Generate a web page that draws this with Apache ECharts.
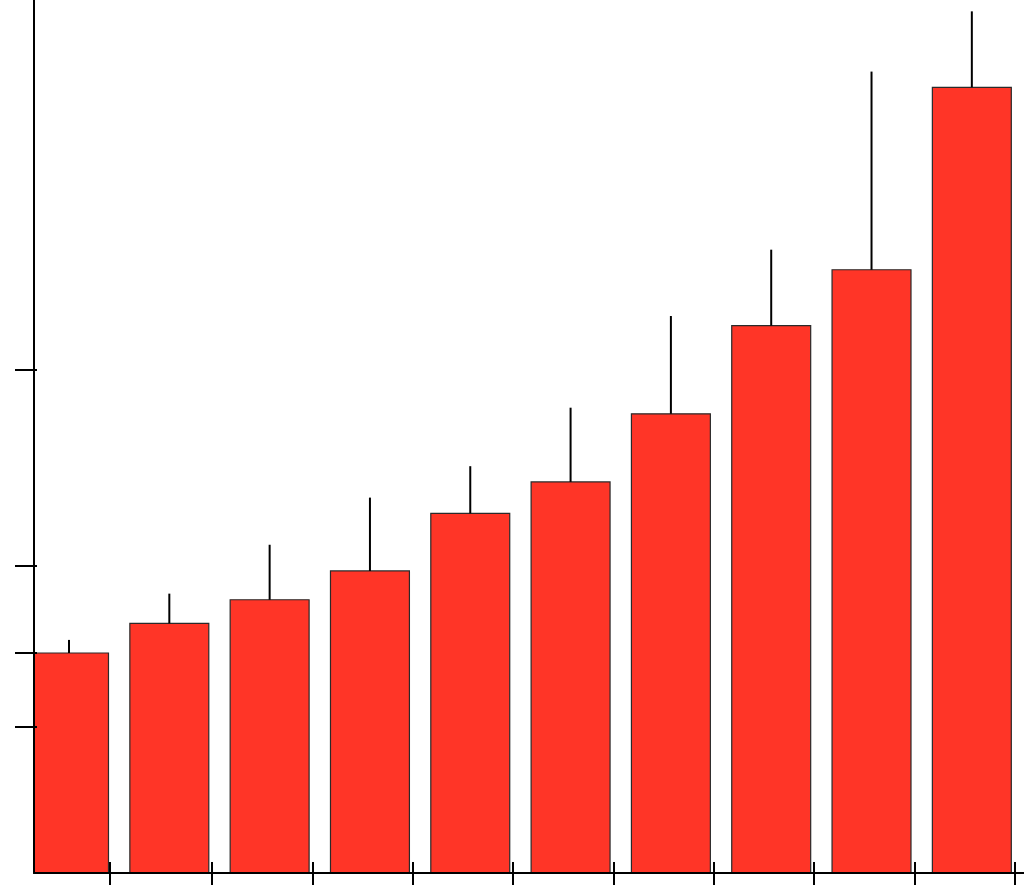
<!DOCTYPE html>
<html>
<head>
<meta charset="utf-8">
<script src="https://cdn.jsdelivr.net/npm/echarts@6/dist/echarts.min.js"></script>
<style>
html,body{margin:0;padding:0;background:#fff;}
#chart{width:1024px;height:892px;}
</style>
</head>
<body>
<div id="chart"></div>
<script>
var positions = [1, 2, 3, 4, 5, 6, 7, 8, 9, 10];
var means = [25.2, 28.6, 31.3, 34.6, 41.2, 44.8, 52.6, 62.7, 69.1, 90.0];
var upper = [26.7, 32.0, 37.6, 43.0, 46.6, 53.3, 63.8, 71.4, 91.8, 98.7];
var yTickValues = [16.8, 25.2, 35.2, 57.6];
var xTickValues = [1.41, 2.42, 3.425, 4.43, 5.425, 6.43, 7.43, 8.425, 9.43, 10.43];

var barData = positions.map(function (p, i) { return [p, means[i]]; });
var errData = positions.map(function (p, i) { return [p, means[i], upper[i]]; });

var BAR_W = 0.787; // bar width in x-axis units

var chart = echarts.init(document.getElementById('chart'), null, {renderer: 'canvas'});

var xBase = {
  type: 'value', min: 0.651, max: 10.52, z: 5,
  splitLine: {show: false}, axisLabel: {show: false}
};
var yBase = {
  type: 'value', min: 0, max: 100, z: 5,
  splitLine: {show: false}, axisLabel: {show: false}
};

chart.setOption({
  backgroundColor: '#ffffff',
  animation: false,
  grid: {left: 34, right: 0, top: 0, bottom: 19, containLabel: false},
  xAxis: [
    Object.assign({}, xBase, {
      axisLine: {show: true, onZero: false, lineStyle: {color: '#000', width: 2}},
      axisTick: {show: true, inside: false, length: 12, customValues: xTickValues, lineStyle: {color: '#000', width: 2}}
    }),
    Object.assign({}, xBase, {
      position: 'bottom',
      axisLine: {show: false},
      axisTick: {show: true, inside: true, length: 11, customValues: xTickValues, lineStyle: {color: '#000', width: 2}}
    })
  ],
  yAxis: [
    Object.assign({}, yBase, {
      axisLine: {show: true, onZero: false, lineStyle: {color: '#000', width: 2}},
      axisTick: {show: true, inside: false, length: 19, customValues: yTickValues, lineStyle: {color: '#000', width: 2}}
    }),
    Object.assign({}, yBase, {
      position: 'left',
      axisLine: {show: false},
      axisTick: {show: true, inside: true, length: 3, customValues: yTickValues, lineStyle: {color: '#000', width: 2}}
    })
  ],
  series: [
    {
      type: 'custom',
      data: barData,
      z: 2,
      renderItem: function (params, api) {
        var x = api.value(0), y = api.value(1);
        var pl = api.coord([x - BAR_W / 2, y]);
        var pr = api.coord([x + BAR_W / 2, 0]);
        var cs = params.coordSys;
        var rect = echarts.graphic.clipRectByRect(
          {x: pl[0], y: pl[1], width: pr[0] - pl[0], height: pr[1] - pl[1]},
          {x: cs.x, y: cs.y, width: cs.width, height: cs.height}
        );
        return rect && {
          type: 'rect',
          shape: rect,
          style: {fill: '#ff3527', stroke: '#2a2a2a', lineWidth: 1.2}
        };
      },
      encode: {x: 0, y: 1}
    },
    {
      type: 'custom',
      data: errData,
      z: 3,
      renderItem: function (params, api) {
        var p0 = api.coord([api.value(0), api.value(1)]);
        var p1 = api.coord([api.value(0), api.value(2)]);
        return {
          type: 'line',
          shape: {x1: p0[0], y1: p0[1], x2: p1[0], y2: p1[1]},
          style: {stroke: '#000', lineWidth: 2}
        };
      },
      encode: {x: 0, y: [1, 2]}
    }
  ]
});
</script>
</body>
</html>
